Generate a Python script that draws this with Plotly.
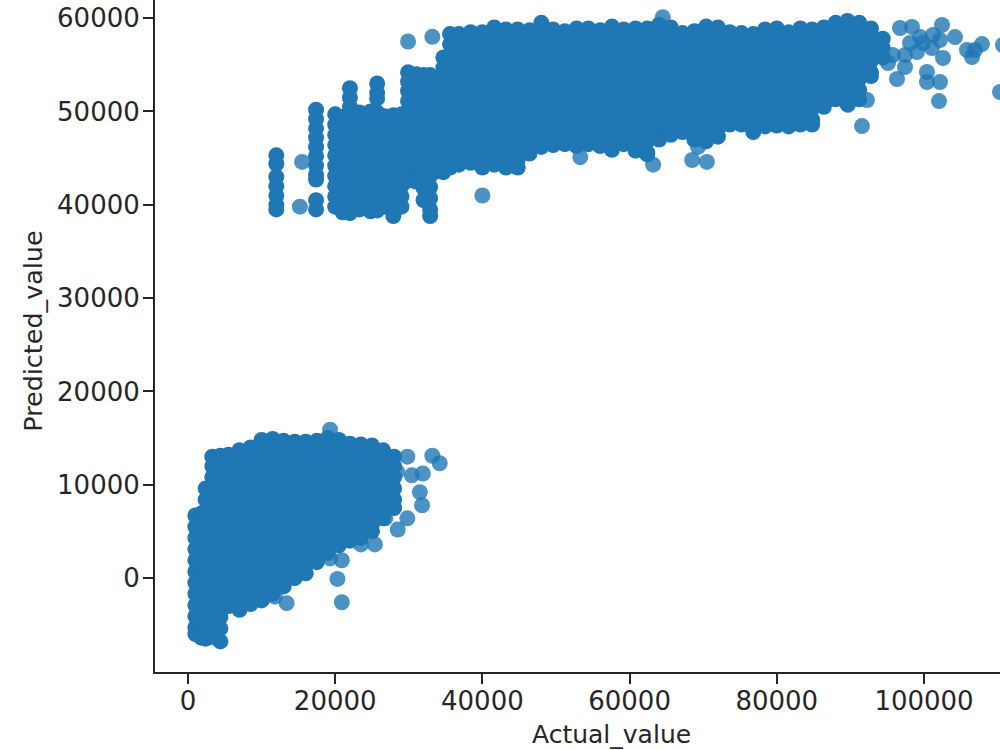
import plotly.graph_objects as go

# Dense regions: each entry in *_actual is one actual-value column,
# with the predicted values observed in that column alongside it.
upper_actual = [
    12000, 17400, 20000, 21000, 22000, 23300, 24800, 25700, 26700, 27900, 29000, 29900, 31000,
    32000, 32900, 33900, 34700, 35600, 36800, 38400, 40000, 41600, 43200, 44800, 46400, 48000,
    49600, 51200, 52800, 54400, 56000, 57600, 59200, 60800, 62400, 64000, 65600, 67200, 68800,
    70400, 72000, 73600, 75200, 76800, 78400, 80000, 81600, 83200, 84800, 86400, 88000, 89600,
    91200, 92800, 94400,
]
upper_predicted = [
    [45300, 44400, 43000, 42000, 41000, 40000, 39500],
    [50200, 49200, 48200, 47200, 46200, 45200, 44200, 43200, 42700, 40500, 39500],
    [49700, 48600, 47500, 46400, 45300, 44200, 43100, 42000, 40900, 39800],
    [49400, 48100, 46900, 45700, 44500, 43300, 42100, 40900, 39700, 39200],
    [52500, 51500, 50500, 49500, 48400, 47300, 46200, 45100, 44000, 42900, 41800, 40700, 39600, 39100],
    [49900, 48800, 47700, 46600, 45500, 44400, 43300, 42200, 41100, 40000, 39500],
    [50000, 48900, 47800, 46700, 45600, 44500, 43400, 42300, 41200, 40100, 39300],
    [53000, 52000, 51400, 49900, 48700, 47500, 46300, 45100, 43900, 42700, 41500, 40300, 39400],
    [49500, 48400, 47300, 46200, 45100, 44000, 42900, 41800, 40700, 39800],
    [49600, 48500, 47400, 46300, 45200, 44100, 43000, 41900, 40800, 39700, 38800],
    [49700, 48600, 47500, 46400, 45300, 44200, 43100, 42000, 40900, 39800],
    [54200, 53200, 52200, 51100, 50000, 48900, 47800, 46700, 45600, 44500, 43400, 42600],
    [54000, 52900, 51800, 50700, 49600, 48500, 47400, 46300, 45200, 44100, 43000, 42500],
    [53900, 52800, 51700, 50600, 49500, 48400, 47300, 46200, 45100, 44000, 42900, 41800, 40500],
    [53900, 52700, 51500, 50300, 49100, 47900, 46700, 45500, 44300, 43100, 41900, 40700, 39500, 38800],
    [53500, 52400, 51300, 50200, 49100, 48000, 46900, 45800, 44700, 43600],
    [55800, 54700, 53600, 52500, 51400, 50300, 49200, 48100, 47000, 45900, 44800, 43500],
    [58300, 57200, 56100, 55000, 53900, 52800, 51700, 50600, 49500, 48400, 47300, 46200, 45100, 44000],
    [58300, 57100, 55900, 54700, 53500, 52300, 51100, 49900, 48700, 47500, 46300, 45100, 44300],
    [58500, 57700, 56500, 55300, 54100, 52900, 51700, 50500, 49300, 48100, 46900, 45700, 44500],
    [58500, 57200, 56000, 54800, 53600, 52400, 51200, 50000, 48800, 47600, 46400, 45200, 44000],
    [59000, 57800, 56600, 55400, 54200, 53000, 51800, 50600, 49400, 48200, 47000, 45800, 44600, 44300],
    [58800, 57500, 56300, 55100, 53900, 52700, 51500, 50300, 49100, 47900, 46700, 45500, 44300, 44000],
    [58800, 58000, 56800, 55600, 54400, 53200, 52000, 50800, 49600, 48400, 47200, 46000, 44800, 44000],
    [58700, 57500, 56300, 55100, 53900, 52700, 51500, 50300, 49100, 47900, 46700, 45500],
    [59500, 58200, 57000, 55800, 54600, 53400, 52200, 51000, 49800, 48600, 47400, 46200],
    [58800, 57600, 56400, 55200, 54000, 52800, 51600, 50400, 49200, 48000, 46800, 46400],
    [58600, 58000, 56800, 55600, 54400, 53200, 52000, 50800, 49600, 48400, 47200, 46500],
    [58900, 57600, 56400, 55200, 54000, 52800, 51600, 50400, 49200, 48000, 46800, 46300],
    [58900, 58100, 56900, 55700, 54500, 53300, 52100, 50900, 49700, 48500, 47300, 46500],
    [58700, 57500, 56300, 55100, 53900, 52700, 51500, 50300, 49100, 47900, 46700, 46300],
    [59100, 58000, 56800, 55600, 54400, 53200, 52000, 50800, 49600, 48400, 47200, 45900],
    [58800, 57500, 56300, 55100, 53900, 52700, 51500, 50300, 49100, 47900, 46700, 46500],
    [58900, 58100, 56900, 55700, 54500, 53300, 52100, 50900, 49700, 48500, 47300, 46100, 45800],
    [58900, 57600, 56400, 55200, 54000, 52800, 51600, 50400, 49200, 48000, 46800, 45600, 45400],
    [59300, 58100, 56900, 55700, 54500, 53300, 52100, 50900, 49700, 48500, 47300, 47000],
    [59000, 57700, 56500, 55300, 54100, 52900, 51700, 50500, 49300, 48100, 47500],
    [58400, 58000, 56800, 55600, 54400, 53200, 52000, 50800, 49600, 48400, 47800],
    [58600, 57500, 56300, 55100, 53900, 52700, 51500, 50300, 49100, 47900, 47000],
    [59100, 58100, 56900, 55700, 54500, 53300, 52100, 50900, 49700, 48500, 47300, 46800],
    [59000, 57700, 56500, 55300, 54100, 52900, 51700, 50500, 49300, 48100, 47300],
    [58500, 57900, 56700, 55500, 54300, 53100, 51900, 50700, 49500, 48600],
    [58400, 57400, 56200, 55000, 53800, 52600, 51400, 50200, 49000, 48600],
    [58300, 57800, 56600, 55400, 54200, 53000, 51800, 50600, 49400, 48200, 47800],
    [58800, 57600, 56400, 55200, 54000, 52800, 51600, 50400, 49200, 48400],
    [58900, 58000, 56800, 55600, 54400, 53200, 52000, 50800, 49600, 48500],
    [58500, 57500, 56300, 55100, 53900, 52700, 51500, 50300, 49100, 48400],
    [58900, 58000, 56800, 55600, 54400, 53200, 52000, 50800, 49600, 48600],
    [58800, 57500, 56300, 55100, 53900, 52700, 51500, 50300, 49100, 48600],
    [59000, 58100, 56900, 55700, 54500, 53300, 52100, 50900, 50500],
    [59500, 58200, 57000, 55800, 54600, 53400, 52200, 51300],
    [59700, 58800, 57600, 56400, 55200, 54000, 52800, 51600, 50800],
    [59500, 58300, 57100, 55900, 54700, 53500, 52300, 51300],
    [58900, 57800, 56600, 55400, 54200, 53800],
    [57800, 56800, 55800],
]

lower_actual = [
    1000, 1800, 2400, 3300, 4400, 5500, 7000, 8500, 10000, 11500, 13000, 14500,
    16000, 17500, 19000, 20500, 22000, 23500, 25000, 26500, 28000,
]
lower_predicted = [
    [6700, 5500, 4300, 3100, 1900, 700, -500, -1700, -2900, -4100, -5300, -6000],
    [6900, 6100, 4900, 3700, 2500, 1300, 100, -1100, -2300, -3500, -4700, -5900, -6400],
    [9600, 8400, 7200, 6000, 4800, 3600, 2400, 1200, 0, -1200, -2400, -3600, -4800, -6000, -6500],
    [13000, 12000, 10800, 9600, 8400, 7200, 6000, 4800, 3600, 2400, 1200, 0, -1200, -2400, -3600, -4800, -6000, -6300],
    [13100, 12600, 11400, 10200, 9000, 7800, 6600, 5400, 4200, 3000, 1800, 600, -600, -1800, -3000, -4200, -5400, -6800],
    [13200, 12000, 10800, 9600, 8400, 7200, 6000, 4800, 3600, 2400, 1200, 0, -1200, -2400, -3000],
    [13700, 12600, 11400, 10200, 9000, 7800, 6600, 5400, 4200, 3000, 1800, 600, -600, -1800, -3000, -3400],
    [14000, 12900, 11700, 10500, 9300, 8100, 6900, 5700, 4500, 3300, 2100, 900, -300, -1500, -2800],
    [14800, 13500, 12300, 11100, 9900, 8700, 7500, 6300, 5100, 3900, 2700, 1500, 300, -900, -2400],
    [14900, 14100, 12900, 11700, 10500, 9300, 8100, 6900, 5700, 4500, 3300, 2100, 900, -300, -1700],
    [14700, 13500, 12300, 11100, 9900, 8700, 7500, 6300, 5100, 3900, 2700, 1500, 300, -900],
    [14600, 14000, 12800, 11600, 10400, 9200, 8000, 6800, 5600, 4400, 3200, 2000, 800, 0],
    [14600, 13400, 12200, 11000, 9800, 8600, 7400, 6200, 5000, 3800, 2600, 1400, 500],
    [14700, 14000, 12800, 11600, 10400, 9200, 8000, 6800, 5600, 4400, 3200, 2000, 1700],
    [15000, 13700, 12500, 11300, 10100, 8900, 7700, 6500, 5300, 4100, 2900, 2700],
    [14800, 14000, 12800, 11600, 10400, 9200, 8000, 6800, 5600, 4400, 3500],
    [14400, 13300, 12100, 10900, 9700, 8500, 7300, 6100, 4900, 4000],
    [14300, 13700, 12500, 11300, 10100, 8900, 7700, 6500, 5300, 4300],
    [14200, 13000, 11800, 10600, 9400, 8200, 7000, 5800, 5000],
    [13700, 12800, 11600, 10400, 9200, 8000, 6800, 6400],
    [13000, 12000, 10800, 9600, 8400, 7500],
]

# Outlying points drawn individually, slightly translucent.
stray_actual = [
    15500, 15200, 29900, 33200, 40000, 53300, 64500, 63200, 69300, 68500, 70500,
    91570, 89670, 92250, 96330, 100400, 100400, 102170, 102040, 102580, 102440, 104210,
    105840, 106520, 106930, 107880, 110330, 110730, 96740, 98370, 99460, 101220, 102170,
    99860, 101080, 99050, 97420, 95110, 98100, 97420, 95790,
    19300, 29800, 33200, 34200, 31900, 30400, 28400, 31500, 31800, 29800, 28500, 26800,
    25400, 23500, 19300, 20900, 20300, 20900, 13400, 11800,
]
stray_predicted = [
    44600, 39800, 57500, 58000, 41000, 45100, 60100, 44300, 46200, 44800, 44600,
    48440, 50700, 51230, 53480, 54230, 53160, 53160, 51120, 55730, 59270, 57980,
    56590, 55840, 56590, 57230, 52090, 57130, 58950, 59060, 57980, 58200, 57660,
    57340, 56800, 56380, 54770, 55200, 57340, 56050, 56050,
    15900, 13000, 13100, 12300, 11200, 11000, 11400, 9200, 7800, 6400, 5200, 6400,
    3600, 3600, 2100, 1900, -100, -2600, -2700, -2000,
]

x_ticks = [0, 20000, 40000, 60000, 80000, 100000]
y_ticks = [0, 10000, 20000, 30000, 40000, 50000, 60000]

def flatten(columns, rows):
    xs, ys = [], []
    for x, col in zip(columns, rows):
        xs.extend([x] * len(col))
        ys.extend(col)
    return xs, ys

BLUE = "#1f77b4"
INK = "#262626"
FONT = "DejaVu Sans"

fig = go.Figure()
fig.add_trace(go.Scatter(
    x=stray_actual, y=stray_predicted, mode="markers",
    marker=dict(color=BLUE, size=16, opacity=0.8, line=dict(width=0)),
))
for cols, rows in ((upper_actual, upper_predicted), (lower_actual, lower_predicted)):
    xs, ys = flatten(cols, rows)
    fig.add_trace(go.Scatter(
        x=xs, y=ys, mode="markers",
        marker=dict(color=BLUE, size=16, line=dict(width=0)),
    ))

axis_style = dict(
    showgrid=False, zeroline=False, showline=True, linecolor=INK, linewidth=2,
    ticks="outside", ticklen=10, tickwidth=2, tickcolor=INK, tickformat="d",
    tickfont=dict(family=FONT, size=26, color=INK),
)
fig.update_layout(
    width=1000, height=750, margin=dict(l=155, r=0, t=0, b=78),
    paper_bgcolor="white", plot_bgcolor="white", showlegend=False,
    font=dict(family=FONT, color=INK),
    xaxis=dict(range=[-4484, 110326], tickvals=x_ticks, ticklabelstandoff=-5, **axis_style),
    yaxis=dict(range=[-10075, 61950], tickvals=y_ticks, ticklabelstandoff=-2, **axis_style),
    annotations=[
        dict(
            text="Actual_value", xref="x", x=57600, yref="paper", y=0,
            xanchor="center", yanchor="top", yshift=-46, showarrow=False,
            font=dict(family=FONT, size=25, color=INK),
        ),
        dict(
            text="Predicted_value", xref="paper", x=0, yref="y", y=26400,
            xanchor="center", yanchor="middle", xshift=-122, textangle=-90, showarrow=False,
            font=dict(family=FONT, size=25.4, color=INK),
        ),
    ],
)
fig.write_html("out.html")
